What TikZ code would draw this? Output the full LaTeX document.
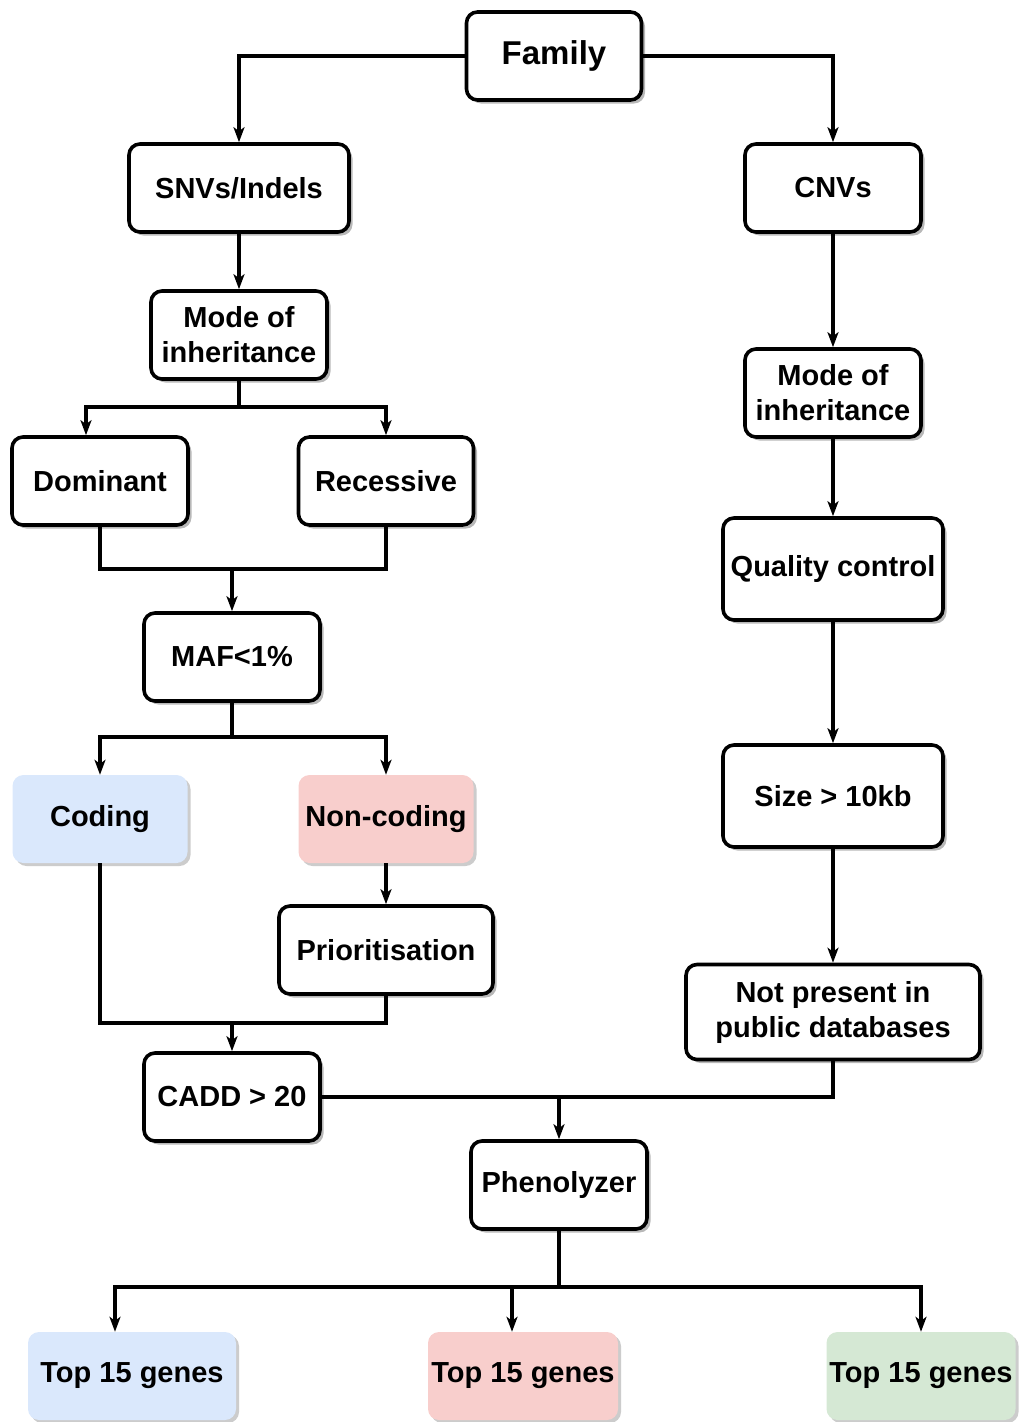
\documentclass[tikz,border=0pt]{standalone}
\usepackage{fontspec}
\setmainfont{Liberation Sans}
\usetikzlibrary{arrows.meta,shadows}
\definecolor{cblue}{HTML}{DAE8FC}
\definecolor{cred}{HTML}{F8CECC}
\definecolor{cgreen}{HTML}{D5E8D4}
\begin{document}
\begin{tikzpicture}[x=1pt,y=-1pt,
  box/.style={draw=black,line width=3.6pt,rounded corners=11pt,fill=white,
    minimum width=#1,minimum height=88pt,inner sep=2pt,align=center,
    font=\bfseries\fontsize{29}{35}\selectfont,
    drop shadow={shadow xshift=3.5pt,shadow yshift=-3.5pt,fill=black!35,opacity=0.8}},
  box/.default=176pt,
  soft/.style={rounded corners=11pt,fill=#1,minimum height=88pt,inner sep=2pt,
    align=center,font=\bfseries\fontsize{29}{35}\selectfont,
    drop shadow={shadow xshift=3pt,shadow yshift=-3pt,fill=black!25,opacity=0.8}},
  line/.style={line width=3.6pt},
  arr/.style={line width=3.6pt,-{Stealth[length=15pt,width=11pt,inset=4pt]}},
]
\useasboundingbox (0,0) rectangle (1018,1422);

% nodes
\node[box=175pt,font=\bfseries\fontsize{33}{38}\selectfont] (fam) at (554,56) {Family};
\node[box=220pt] (snv) at (239,188) {SNVs/Indels};
\node[box=176pt] (cnv) at (833,188) {CNVs};
\node[box=176pt] (moiL) at (239,335) {Mode of\\inheritance};
\node[box=176pt] (dom) at (100,481) {Dominant};
\node[box=175pt] (rec) at (386,481) {Recessive};
\node[box=176pt] (maf) at (232,657) {MAF<1\%};
\node[soft=cblue,minimum width=175pt] (cod) at (100,819) {Coding};
\node[soft=cred,minimum width=175pt] (nco) at (386,819) {Non-coding};
\node[box=214pt] (pri) at (386,950) {Prioritisation};
\node[box=176pt] (cadd) at (232,1097) {CADD > 20};
\node[box=176pt] (moiR) at (833,393) {Mode of\\inheritance};
\node[box=220pt,minimum height=102pt] (qc) at (833,569) {Quality control};
\node[box=220pt,minimum height=102pt] (size) at (833,796) {Size > 10kb};
\node[box=294pt,minimum height=95pt] (npd) at (833,1012) {Not present in\\public databases};
\node[box=176pt] (phe) at (559,1185) {Phenolyzer};
\node[soft=cblue,minimum width=208pt] (t1) at (132,1376) {Top 15 genes};
\node[soft=cred,minimum width=190pt] (t2) at (523,1376) {Top 15 genes};
\node[soft=cgreen,minimum width=189pt] (t3) at (921,1376) {Top 15 genes};

% junction points
\coordinate (j1) at (239,407);
\coordinate (j2) at (232,569);
\coordinate (j3) at (232,737);
\coordinate (j4) at (232,1023);
\coordinate (j5) at (559,1097);
\coordinate (j6) at (559,1287);

% family split
\draw[arr] (fam.west) -| (snv.north);
\draw[arr] (fam.east) -| (cnv.north);

% SNV branch
\draw[arr] (snv) -- (moiL);
\draw[line] (moiL.south) -- (j1);
\draw[arr] (j1) -| ([xshift=-14pt]dom.north);
\draw[arr] (j1) -| (rec.north);
\draw[line] (dom.south) |- (j2);
\draw[line] (rec.south) |- (j2);
\draw[arr] (j2) -- (maf.north);
\draw[line] (maf.south) -- (j3);
\draw[arr] (j3) -| (cod.north);
\draw[arr] (j3) -| (nco.north);
\draw[arr] (nco) -- (pri);
\draw[line] (cod.south) |- (j4);
\draw[line] (pri.south) |- (j4);
\draw[arr] (j4) -- (cadd.north);

% CNV branch
\draw[arr] (cnv) -- (moiR);
\draw[arr] (moiR) -- (qc);
\draw[arr] (qc) -- (size);
\draw[arr] (size) -- (npd);

% merge and results
\draw[line] (cadd.east) -- (j5);
\draw[line] (npd.south) |- (j5);
\draw[arr] (j5) -- (phe.north);
\draw[line] (phe.south) -- (j6);
\draw[arr] (j6) -| ([xshift=-17pt]t1.north);
\draw[arr] (j6) -| ([xshift=-11pt]t2.north);
\draw[arr] (j6) -| (t3.north);
\end{tikzpicture}
\end{document}
